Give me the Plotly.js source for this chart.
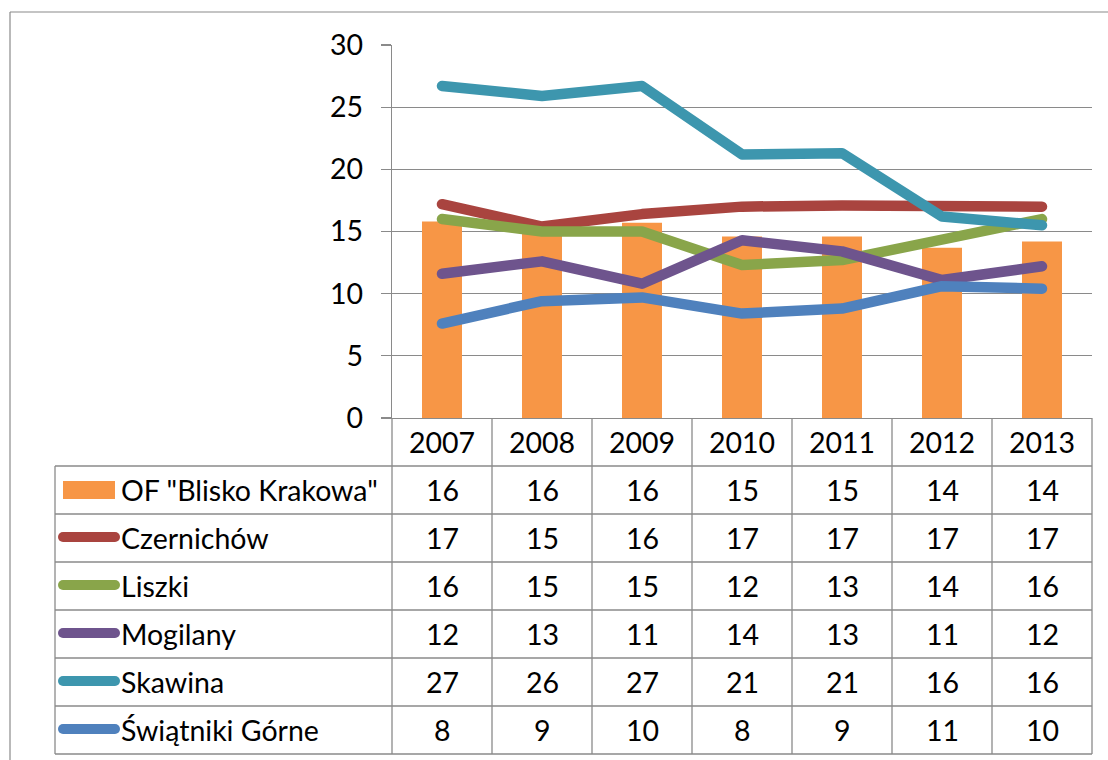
<!DOCTYPE html>
<html>
<head>
<meta charset="utf-8">
<script src="https://cdn.plot.ly/plotly-3.0.1.min.js"></script>
<style>html,body{margin:0;padding:0;background:#fff;}#chart{width:1108px;height:760px;}</style>
</head>
<body>
<div id="chart"></div>
<script>
// ---- data ----
const years = ['2007', '2008', '2009', '2010', '2011', '2012', '2013'];
const seriesNames = ['OF "Blisko Krakowa"', 'Czernichów', 'Liszki', 'Mogilany', 'Skawina', 'Świątniki Górne'];
const ofBlisko   = [15.8, 15.5, 15.7, 14.6, 14.6, 13.7, 14.2];
const czernichow = [17.2, 15.4, 16.4, 17.0, 17.1, 16.95, 17.0];
const liszki     = [16.0, 15.0, 15.0, 12.3, 12.7, 14.3, 16.0];
const mogilany   = [11.6, 12.6, 10.8, 14.3, 13.4, 11.1, 12.2];
const skawina    = [26.7, 25.9, 26.7, 21.2, 21.3, 16.2, 15.5];
const swiatniki  = [7.6, 9.4, 9.7, 8.4, 8.8, 10.6, 10.4];
// values shown in the data table (rounded, as printed)
const tableOF         = [16, 16, 16, 15, 15, 14, 14];
const tableCzernichow = [17, 15, 16, 17, 17, 17, 17];
const tableLiszki     = [16, 15, 15, 12, 13, 14, 16];
const tableMogilany   = [12, 13, 11, 14, 13, 11, 12];
const tableSkawina    = [27, 26, 27, 21, 21, 16, 16];
const tableSwiatniki  = [8, 9, 10, 8, 9, 11, 10];

// ---- styling ----
const colors = ['#F79646', '#A9443F', '#89A54A', '#6E548D', '#3D96AE', '#4F81BD'];
const FONT = 'Lato, "Open Sans", sans-serif';
const FS = 28.5;
const gridC = '#8A8A8A';

const W = 1108, H = 760;
const L = 392, R = 16, T = 45, B = 342;
const pw = W - L - R, ph = H - T - B;
const xp = px => (px - L) / pw;
const yp = py => (H - B - py) / ph;

const lineSeries = [czernichow, liszki, mogilany, skawina, swiatniki];
const tableRows = [tableOF, tableCzernichow, tableLiszki, tableMogilany, tableSkawina, tableSwiatniki];

const traces = [{
  type: 'bar', x: years, y: ofBlisko, name: seriesNames[0],
  marker: {color: colors[0]}, width: 0.4, hoverinfo: 'skip'
}];
lineSeries.forEach((s, i) => {
  traces.push({
    type: 'scatter', mode: 'lines', x: years, y: s, name: seriesNames[i + 1],
    line: {color: colors[i + 1], width: 10.5}, hoverinfo: 'skip'
  });
});

// table geometry (pixels)
const headerTop = 418, rowH = 48, firstRowTop = 466;
const tableLeft = 55, tableRight = 1092;
const colEdges = [392, 492, 592, 692, 792, 892, 992, 1092];

const shapes = [];
const ln = (x0, y0, x1, y1, c, w) => ({type: 'line', xref: 'paper', yref: 'paper',
  x0: xp(x0), y0: yp(y0), x1: xp(x1), y1: yp(y1), line: {color: c, width: w}});
// outer chart border
shapes.push(ln(10, 12, 1120, 12, '#8A8A8A', 1.2));
shapes.push(ln(10, 12, 10, 770, '#8A8A8A', 1.2));
// horizontal table lines
for (let r = 0; r <= 6; r++) {
  const y = firstRowTop + r * rowH;
  shapes.push(ln(tableLeft, y, tableRight, y, gridC, 1.3));
}
// vertical lines
colEdges.forEach(x => shapes.push(ln(x, headerTop, x, firstRowTop + 6 * rowH, gridC, 1.3)));
shapes.push(ln(tableLeft, firstRowTop, tableLeft, firstRowTop + 6 * rowH, gridC, 1.3));
// legend keys
const rowCenter = r => firstRowTop + r * rowH + rowH / 2;
shapes.push({type: 'rect', xref: 'paper', yref: 'paper', x0: xp(63), x1: xp(115),
  y0: yp(rowCenter(0) - 9), y1: yp(rowCenter(0) + 9), fillcolor: colors[0], line: {width: 0}});
for (let r = 1; r < 6; r++) {
  shapes.push(ln(63, rowCenter(r) - 1, 115, rowCenter(r) - 1, colors[r], 10));
}

const txtFont = {family: FONT, size: FS, color: '#000'};
const annotations = [];
years.forEach((yr, c) => annotations.push({xref: 'x', yref: 'paper', x: c, y: yp(442), text: yr,
  showarrow: false, xanchor: 'center', yanchor: 'middle', font: txtFont}));
tableRows.forEach((row, r) => {
  row.forEach((v, c) => annotations.push({xref: 'x', yref: 'paper', x: c, y: yp(rowCenter(r)),
    text: String(v), showarrow: false, xanchor: 'center', yanchor: 'middle', font: txtFont}));
  annotations.push({xref: 'paper', yref: 'paper', x: xp(119), y: yp(rowCenter(r)), text: seriesNames[r],
    showarrow: false, xanchor: 'left', yanchor: 'middle', font: txtFont});
});

const layout = {
  width: W, height: H, margin: {l: L, r: R, t: T, b: B, pad: 0},
  paper_bgcolor: '#fff', plot_bgcolor: '#fff',
  showlegend: false, hovermode: false, barmode: 'overlay',
  xaxis: {type: 'category', range: [-0.5, 6.5], showticklabels: false, ticks: '',
    showgrid: false, zeroline: false, showline: true, linecolor: gridC, linewidth: 1.3, fixedrange: true},
  yaxis: {range: [0, 30], dtick: 5, tick0: 0, ticks: 'outside', ticklen: 10, tickcolor: gridC, tickwidth: 1.3,
    showline: true, linecolor: gridC, linewidth: 1.3, showgrid: true, gridcolor: gridC, gridwidth: 1.3,
    zeroline: false, ticklabelstandoff: 12, tickfont: txtFont, fixedrange: true},
  shapes: shapes, annotations: annotations
};

Plotly.newPlot('chart', traces, layout, {displayModeBar: false, staticPlot: true}).then(() => {
  document.querySelectorAll('.scatterlayer .js-line').forEach(p => {
    p.style.strokeLinecap = 'round'; p.style.strokeLinejoin = 'round';
  });
  document.querySelectorAll('.shapelayer path').forEach(p => {
    if (parseFloat(p.style.strokeWidth) === 10) { p.style.strokeLinecap = 'round'; }
  });
});
</script>
</body>
</html>
